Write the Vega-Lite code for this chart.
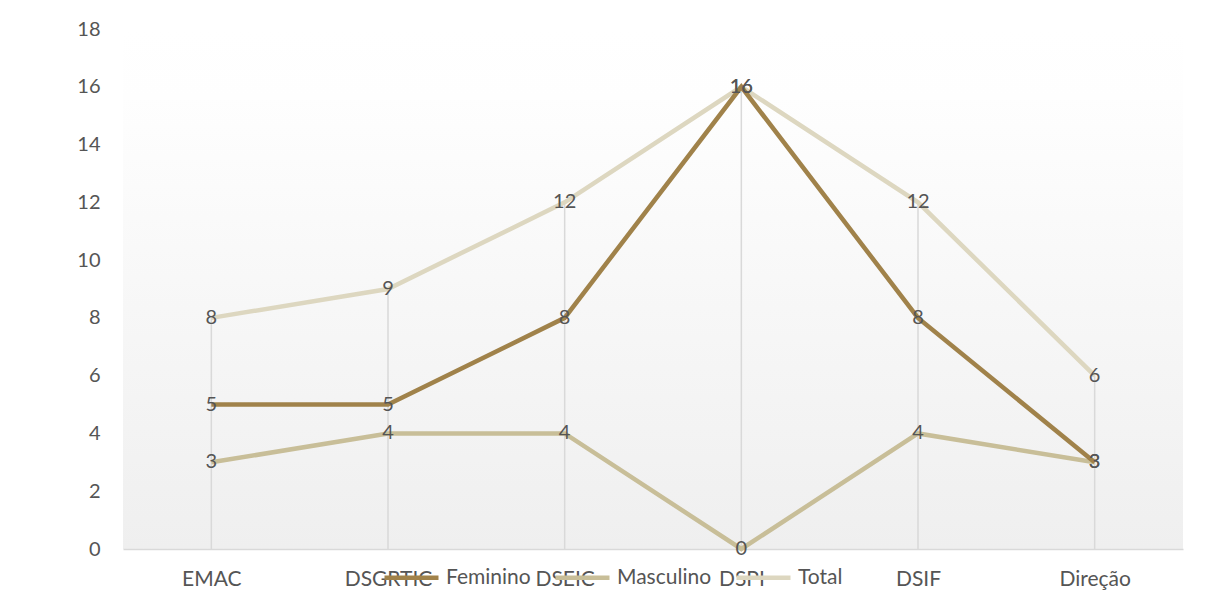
{
  "$schema": "https://vega.github.io/schema/vega-lite/v6.json",
  "autosize": {"type": "none"},
  "width": 1060,
  "height": 520,
  "padding": {"left": 123, "top": 29, "right": 38, "bottom": 61},
  "background": "#ffffff",
  "config": {
    "font": "Lato",
    "view": {
      "stroke": null,
      "fill": {
        "gradient": "linear",
        "x1": 0, "y1": 0, "x2": 0, "y2": 1,
        "stops": [
          {"offset": 0, "color": "#ffffff"},
          {"offset": 0.13, "color": "#fefefe"},
          {"offset": 1, "color": "#efefef"}
        ]
      }
    }
  },
  "data": {
    "values": [
      {"unidade": "EMAC", "serie": "Feminino", "valor": 5},
      {"unidade": "EMAC", "serie": "Masculino", "valor": 3},
      {"unidade": "EMAC", "serie": "Total", "valor": 8},
      {"unidade": "DSGRTIC", "serie": "Feminino", "valor": 5},
      {"unidade": "DSGRTIC", "serie": "Masculino", "valor": 4},
      {"unidade": "DSGRTIC", "serie": "Total", "valor": 9},
      {"unidade": "DSEIC", "serie": "Feminino", "valor": 8},
      {"unidade": "DSEIC", "serie": "Masculino", "valor": 4},
      {"unidade": "DSEIC", "serie": "Total", "valor": 12},
      {"unidade": "DSPI", "serie": "Feminino", "valor": 16},
      {"unidade": "DSPI", "serie": "Masculino", "valor": 0},
      {"unidade": "DSPI", "serie": "Total", "valor": 16},
      {"unidade": "DSIF", "serie": "Feminino", "valor": 8},
      {"unidade": "DSIF", "serie": "Masculino", "valor": 4},
      {"unidade": "DSIF", "serie": "Total", "valor": 12},
      {"unidade": "Direção", "serie": "Feminino", "valor": 3},
      {"unidade": "Direção", "serie": "Masculino", "valor": 3},
      {"unidade": "Direção", "serie": "Total", "valor": 6}
    ]
  },
  "encoding": {
    "x": {
      "field": "unidade",
      "type": "nominal",
      "sort": null,
      "scale": {"type": "point", "padding": 0.5},
      "axis": {
        "title": null,
        "labelAngle": 0,
        "labelFontSize": 21,
        "labelColor": "#555555",
        "labelPadding": 19,
        "ticks": false,
        "domainColor": "#d9d9d9",
        "domainWidth": 1.5,
        "grid": false
      }
    },
    "y": {
      "field": "valor",
      "type": "quantitative",
      "scale": {"domain": [0, 18]},
      "axis": {
        "title": null,
        "values": [0, 2, 4, 6, 8, 10, 12, 14, 16, 18],
        "labelFontSize": 20,
        "labelColor": "#555555",
        "labelPadding": 23,
        "ticks": false,
        "domain": false,
        "grid": false
      }
    }
  },
  "layer": [
    {
      "transform": [{"filter": "datum.serie === 'Total'"}],
      "mark": {"type": "rule", "color": "#d9d9d9", "strokeWidth": 1.5},
      "encoding": {"y2": {"datum": 0}}
    },
    {
      "transform": [{"filter": "datum.serie === 'Total'"}],
      "mark": {"type": "line", "strokeWidth": 4.5},
      "encoding": {"color": {"field": "serie", "type": "nominal"}}
    },
    {
      "transform": [{"filter": "datum.serie === 'Masculino'"}],
      "mark": {"type": "line", "strokeWidth": 4.5},
      "encoding": {"color": {"field": "serie", "type": "nominal"}}
    },
    {
      "transform": [{"filter": "datum.serie === 'Feminino'"}],
      "mark": {"type": "line", "strokeWidth": 4.5},
      "encoding": {
        "color": {
          "field": "serie",
          "type": "nominal",
          "scale": {
            "domain": ["Feminino", "Masculino", "Total"],
            "range": ["#a0824a", "#c8be98", "#ddd7c0"]
          },
          "legend": {
            "title": null,
            "orient": "none",
            "direction": "horizontal",
            "legendX": 259,
            "legendY": 519,
            "padding": 0,
            "symbolType": "stroke",
            "symbolSize": 2916,
            "symbolStrokeWidth": 4.5,
            "labelFontSize": 21,
            "labelColor": "#555555",
            "labelOffset": 5,
            "columnPadding": 15
          }
        }
      }
    },
    {
      "mark": {
        "type": "text",
        "fontSize": 20,
        "color": "#555555",
        "align": "center",
        "baseline": "middle"
      },
      "encoding": {"text": {"field": "valor", "type": "quantitative"}}
    }
  ]
}
